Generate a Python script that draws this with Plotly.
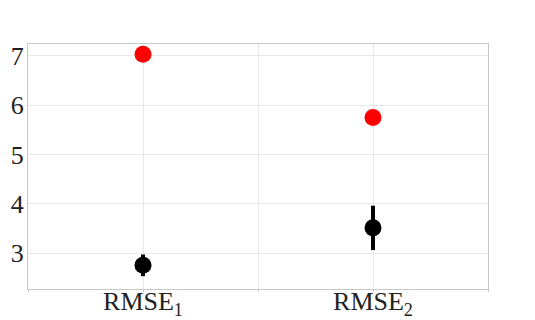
import plotly.graph_objects as go

categories = ["RMSE<sub>1</sub>", "RMSE<sub>2</sub>"]
x_pos = [1, 2]
red_values = [7.03, 5.75]
black_values = [2.75, 3.51]
black_err = [0.22, 0.45]

fig = go.Figure()
fig.add_trace(go.Scatter(x=x_pos, y=red_values, mode="markers",
                         marker=dict(color="red", size=17), showlegend=False))
fig.add_trace(go.Scatter(x=x_pos, y=black_values, mode="markers",
                         marker=dict(color="black", size=17),
                         error_y=dict(type="data", array=black_err, color="black",
                                      thickness=4, width=0),
                         showlegend=False))

fig.update_layout(
    width=535, height=320,
    margin=dict(l=28, r=47, t=44, b=31, autoexpand=False),
    paper_bgcolor="white", plot_bgcolor="white",
    font=dict(family="Liberation Serif", size=26, color="#222"),
    xaxis=dict(range=[0.5, 2.5], tickvals=[0.5, 1, 1.5, 2, 2.5],
               ticktext=["", categories[0], "", categories[1], ""],
               showgrid=True, gridcolor="#e8e8e8", gridwidth=1,
               showline=True, linecolor="#c8c8c8", linewidth=1, mirror=True,
               ticks="outside", ticklen=2, tickcolor="#c8c8c8", zeroline=False,
               ticklabelstandoff=-13, automargin=False),
    yaxis=dict(range=[2.27, 7.24], tickvals=[3, 4, 5, 6, 7],
               showgrid=True, gridcolor="#e8e8e8", gridwidth=1,
               showline=True, linecolor="#c8c8c8", linewidth=1, mirror=True,
               ticks="", zeroline=False, ticklabelstandoff=-2, automargin=False),
)

fig.write_html("out.html", config={"displayModeBar": False},
               post_script="document.body.style.margin='0';")
